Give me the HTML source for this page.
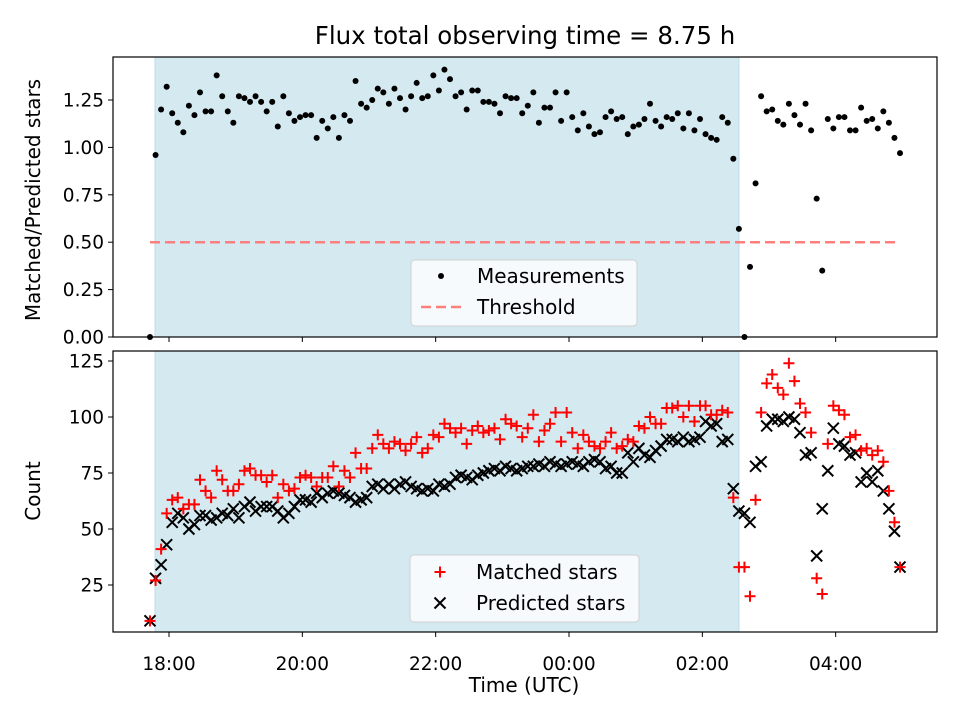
<!DOCTYPE html>
<html><head><meta charset="utf-8"><style>
body{margin:0;background:#fff}
svg{display:block;font-family:"DejaVu Sans","Liberation Sans",sans-serif}
</style></head><body>
<svg id="chart" width="960" height="720"></svg>
<script>
// ---- data ----
const startHour = -0.285;      // hours relative to 18:00 of first sample
const cadenceHours = 1/12;     // sampling cadence
const shadeStart = -0.21, shadeEnd = 8.55;
const threshold = 0.5;
const ratio = [0,0.96,1.20,1.32,1.18,1.13,1.08,1.22,1.17,1.29,1.19,1.19,1.38,1.27,1.19,1.13,1.27,1.26,1.24,1.27,
1.24,1.19,1.24,1.11,1.27,1.18,1.14,1.16,1.17,1.17,1.05,1.14,1.10,1.16,1.05,1.17,1.14,1.35,1.23,1.21,
1.25,1.31,1.29,1.23,1.31,1.26,1.20,1.27,1.34,1.26,1.27,1.38,1.30,1.41,1.36,1.27,1.29,1.20,1.30,1.30,
1.24,1.24,1.23,1.18,1.27,1.26,1.26,1.18,1.22,1.29,1.13,1.21,1.21,1.29,1.14,1.29,1.16,1.09,1.18,1.11,
1.07,1.08,1.16,1.19,1.15,1.16,1.07,1.11,1.12,1.15,1.23,1.14,1.11,1.16,1.15,1.18,1.10,1.18,1.09,1.15,
1.07,1.05,1.04,1.16,1.13,0.94,0.57,0,0.37,0.81,1.27,1.19,1.20,1.14,1.12,1.23,1.17,1.12,1.23,1.09,
0.73,0.35,1.15,1.10,1.16,1.16,1.09,1.09,1.21,1.14,1.15,1.10,1.19,1.13,1.05,0.97];
const matched = [9,27,41,57,63,64,59,61,61,72,67,64,76,72,67,67,70,76,77,74,
74,71,74,64,70,67,68,73,74,73,69,73,73,78,69,76,73,84,77,77,
86,92,88,86,89,88,85,88,91,84,86,92,91,97,95,93,95,88,94,96,
93,94,95,90,99,97,96,91,95,101,89,94,97,102,89,102,93,86,92,89,
87,86,89,93,86,87,90,89,96,95,100,97,97,104,104,105,100,105,98,105,
105,101,101,103,102,64,33,33,20,63,102,115,119,113,110,124,116,106,102,93,
28,21,88,105,103,101,91,92,85,86,83,85,80,67,53,33];
const predicted = [9,28,34,43,53,57,55,50,52,56,56,54,55,57,56,59,55,60,62,58,
60,60,60,58,55,57,60,63,63,62,66,64,66,67,66,65,64,62,63,64,
69,70,68,70,68,70,71,69,68,67,68,67,70,69,70,73,74,73,72,74,
75,76,77,76,78,77,76,77,78,78,79,78,80,79,78,79,80,79,78,80,
81,80,77,78,75,75,84,80,86,83,82,85,87,90,90,89,91,89,90,91,
98,96,97,89,90,68,58,57,53,78,80,96,99,99,98,100,99,93,83,84,
38,59,76,95,88,87,83,84,71,75,71,76,67,59,49,33];
const topTicks = [0,0.25,0.5,0.75,1.0,1.25];
const botTicks = [25,50,75,100,125];
const xTickHours = [0,2,4,6,8,10];
const xTickLabels = ["18:00","20:00","22:00","00:00","02:00","04:00"];

// ---- scales ----
const X0=113,X1=937;
const xs = h => 169 + h*66.667;
const yTop = v => 337 - v*189.6;
const yBot = v => 641 - v*2.24;
const tOf = i => startHour + i*cadenceHours;

const NS="http://www.w3.org/2000/svg";
const svg=document.getElementById('chart');
function el(tag,attrs,parent){const e=document.createElementNS(NS,tag);for(const k in attrs)e.setAttribute(k,attrs[k]);(parent||svg).appendChild(e);return e;}
function txt(s,attrs,parent){const e=el('text',attrs,parent);e.textContent=s;return e;}
const FS=20, TS=18.5;

// title
let t=txt('Flux total observing time = 8.75 h',{x:525,y:44,'font-size':24.5,'text-anchor':'middle',fill:'#000'});



function panel(name,yT,yB,yscale,ticks,fmt,label,labelY){
  const g=el('g',{});
  
  
  const sh=el('rect',{x:xs(shadeStart),y:yT,width:xs(shadeEnd)-xs(shadeStart),height:yB-yT,fill:'#d4e9f0',stroke:'#bcdde8','stroke-width':1},g);
  
  
  ticks.forEach(v=>{
    const y=yscale(v);
    el('line',{x1:X0-5,x2:X0,y1:y,y2:y,stroke:'#000','stroke-width':1},g);
    const l=txt(fmt(v),{x:X0-9,y:y+6.5,'font-size':TS,'text-anchor':'end'},g);
    
    
  });
  xTickHours.forEach(h=>{el('line',{x1:xs(h),x2:xs(h),y1:yB,y2:yB+5,stroke:'#000','stroke-width':1},g);});
  const yl=txt(label,{x:0,y:0,'font-size':FS,'text-anchor':'middle',transform:`translate(40,${labelY}) rotate(-90)`},g);
  
  
  return g;
}
const gTop=panel('top-panel',57,337,yTop,topTicks,v=>v.toFixed(2),'Matched/Predicted stars',200);
const gBot=panel('bottom-panel',351,632,yBot,botTicks,v=>String(v),'Count',491);

// threshold line
const th=el('line',{x1:xs(tOf(0)),x2:xs(tOf(ratio.length-1)),y1:yTop(threshold),y2:yTop(threshold),stroke:'#ff7f7f','stroke-width':2.5,'stroke-dasharray':'10 5'},gTop);


// measurements
ratio.forEach((v,i)=>{
  const c=el('circle',{cx:xs(tOf(i)),cy:yTop(v),r:3,fill:'#000'},gTop);
  
  
});
// counts
predicted.forEach((v,i)=>{
  const x=xs(tOf(i)),y=yBot(v),d=5.5;
  const p=el('path',{d:`M${x-d},${y-d}L${x+d},${y+d}M${x-d},${y+d}L${x+d},${y-d}`,stroke:'#000','stroke-width':2},gBot);
  
  
});
matched.forEach((v,i)=>{
  const x=xs(tOf(i)),y=yBot(v),d=5.5;
  const p=el('path',{d:`M${x-d},${y}L${x+d},${y}M${x},${y-d}L${x},${y+d}`,stroke:'#ff0000','stroke-width':2},gBot);
  
  
});
// frames
[[57,337],[351,632]].forEach(([a,b])=>{
  const f=el('rect',{x:X0,y:a,width:X1-X0,height:b-a,fill:'none',stroke:'#000','stroke-width':1.2});
  
  
});
// x tick labels
xTickLabels.forEach((s,k)=>{
  const l=txt(s,{x:xs(xTickHours[k]),y:670,'font-size':TS,'text-anchor':'middle'});
  
  
});
const xl=txt('Time (UTC)',{x:524,y:692,'font-size':FS,'text-anchor':'middle'});



// legends
const lg1=el('g',{});


el('rect',{x:411,y:260,width:226,height:66,rx:4,fill:'#f6fafc',stroke:'#d0d0d0'},lg1);
el('circle',{cx:441,cy:276,r:3,fill:'#000'},lg1);
txt('Measurements',{x:477,y:283,'font-size':FS},lg1);
el('line',{x1:421,x2:461,y1:307,y2:307,stroke:'#ff7f7f','stroke-width':2.5,'stroke-dasharray':'10 5'},lg1);
txt('Threshold',{x:477,y:314,'font-size':FS},lg1);

const lg2=el('g',{});


el('rect',{x:410,y:555,width:229,height:67,rx:4,fill:'#f6fafc',stroke:'#d0d0d0'},lg2);
el('path',{d:'M434.5,572L445.5,572M440,566.5L440,577.5',stroke:'#ff0000','stroke-width':2},lg2);
txt('Matched stars',{x:476,y:579,'font-size':FS},lg2);
el('path',{d:'M434.5,597.5L445.5,608.5M434.5,608.5L445.5,597.5',stroke:'#000','stroke-width':2},lg2);
txt('Predicted stars',{x:476,y:610,'font-size':FS},lg2);
</script>
</body></html>
